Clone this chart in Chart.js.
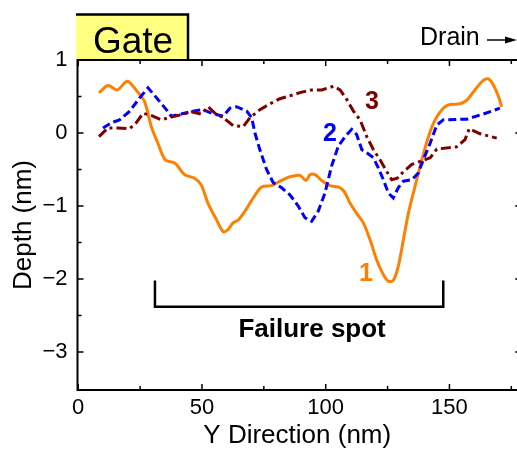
<!DOCTYPE html>
<html><head><meta charset="utf-8">
<script src="https://cdn.jsdelivr.net/npm/chart.js@4"></script>
<style>html,body{margin:0;padding:0;background:#fff}canvas{display:block}</style>
</head><body>
<canvas id="c" width="517" height="449"></canvas>
<script>
// ---- tick values / labels ----
const xTicks = [0, 50, 100, 150];
const xTickLabels = ['0', '50', '100', '150'];
const yTicks = [1, 0, -1, -2, -3];
const yTickLabels = ['1', '0', '−1', '−2', '−3'];
const xMinor = [25, 75, 125, 175];
const yMinor = [0.5, -0.5, -1.5, -2.5];

// ---- series 1 (orange, solid) ----
const s1x = [8.4, 12.0, 15.8, 19.8, 23.8, 26.8, 29.5, 32.2, 35.2, 39.0, 43.0, 47.0, 49.7, 52.4, 55.9, 58.6, 60.6, 62.6, 64.7, 67.4, 70.7, 74.1, 78.2, 81.5, 85.6, 89.6, 92.0, 93.7, 95.7, 98.4, 101.7, 105.8, 107.8, 109.8, 112.5, 115.2, 117.9, 120.6, 123.3, 125.3, 127.3, 129.3, 131.4, 133.4, 136.1, 138.8, 141.5, 144.2, 147.5, 150.2, 154.3, 157.0, 160.3, 163.7, 165.7, 167.7, 169.8, 171.1];
const s1y = [0.55, 0.65, 0.59, 0.71, 0.57, 0.43, 0.09, -0.14, -0.37, -0.41, -0.57, -0.62, -0.71, -0.96, -1.19, -1.35, -1.32, -1.23, -1.19, -1.07, -0.89, -0.74, -0.72, -0.66, -0.60, -0.58, -0.65, -0.57, -0.57, -0.65, -0.72, -0.75, -0.82, -0.96, -1.10, -1.23, -1.46, -1.74, -1.94, -2.03, -2.02, -1.83, -1.46, -1.10, -0.73, -0.37, -0.05, 0.18, 0.34, 0.39, 0.40, 0.45, 0.59, 0.72, 0.74, 0.66, 0.50, 0.36];

// ---- series 2 (blue, dashed) ----
const s2x = [10.0, 13.3, 16.7, 20.8, 24.8, 28.2, 32.2, 35.6, 37.6, 41.6, 46.4, 50.4, 53.9, 58.6, 61.3, 64.0, 68.1, 70.1, 71.4, 73.4, 76.1, 78.8, 82.2, 85.6, 88.9, 91.6, 94.3, 97.0, 99.7, 102.4, 105.1, 107.8, 110.5, 112.5, 114.6, 116.6, 119.3, 121.3, 123.3, 125.3, 127.3, 129.3, 131.4, 134.8, 137.4, 139.4, 142.2, 144.9, 147.5, 157.0, 163.7, 170.4];
const s2y = [0.07, 0.14, 0.18, 0.30, 0.48, 0.62, 0.46, 0.32, 0.23, 0.26, 0.30, 0.32, 0.27, 0.23, 0.34, 0.36, 0.30, 0.21, 0.0, -0.23, -0.50, -0.68, -0.75, -0.85, -1.0, -1.16, -1.21, -1.07, -0.82, -0.45, -0.18, -0.05, 0.05, -0.02, -0.23, -0.27, -0.34, -0.48, -0.64, -0.82, -0.89, -0.75, -0.66, -0.64, -0.55, -0.37, -0.14, 0.11, 0.18, 0.19, 0.26, 0.34];

// ---- series 3 (wine, dash-dot) ----
const s3x = [8.4, 12.0, 16.0, 20.8, 23.4, 26.2, 29.5, 33.5, 37.6, 41.6, 45.7, 49.7, 52.5, 55.3, 58.6, 62.6, 66.7, 69.4, 73.4, 77.5, 81.5, 85.6, 90.3, 94.3, 98.4, 103.1, 105.8, 108.5, 111.2, 113.9, 116.6, 119.3, 122.0, 124.7, 126.7, 128.9, 131.4, 134.8, 138.1, 142.2, 144.9, 152.9, 156.3, 158.0, 162.4, 169.1];
const s3y = [-0.05, 0.07, 0.07, 0.06, 0.14, 0.27, 0.24, 0.18, 0.22, 0.25, 0.29, 0.26, 0.36, 0.27, 0.21, 0.10, 0.09, 0.21, 0.32, 0.40, 0.47, 0.51, 0.56, 0.59, 0.59, 0.64, 0.59, 0.46, 0.30, 0.18, -0.05, -0.23, -0.37, -0.53, -0.64, -0.62, -0.53, -0.43, -0.39, -0.34, -0.22, -0.19, -0.09, 0.06, -0.01, -0.07];

const FONT = "'Liberation Sans', Arial, Helvetica, sans-serif";
const ORANGE = '#ff8000', BLUE = '#0000ff', WINE = '#800000';
function pts(xs, ys) { return xs.map((x, i) => ({ x: x, y: ys[i] })); }

const deco = {
  id: 'deco',
  afterDraw(chart) {
    const ctx = chart.ctx, a = chart.chartArea, X = chart.scales.x, Y = chart.scales.y;
    ctx.save();
    // Gate box
    ctx.fillStyle = '#ffff80';
    ctx.fillRect(76, 14, 112, 46);
    ctx.strokeStyle = '#000'; ctx.lineWidth = 2.5;
    ctx.beginPath(); ctx.moveTo(76, 14.5); ctx.lineTo(188, 14.5); ctx.lineTo(188, 60); ctx.stroke();
    ctx.fillStyle = '#000'; ctx.textAlign = 'center'; ctx.textBaseline = 'alphabetic';
    ctx.font = '37px ' + FONT;
    ctx.fillText('Gate', 133, 53);
    // Drain arrow
    ctx.font = '25px ' + FONT; ctx.textAlign = 'left';
    ctx.fillText('Drain', 420, 45);
    ctx.lineWidth = 1.5;
    ctx.beginPath(); ctx.moveTo(487, 40); ctx.lineTo(508, 40); ctx.stroke();
    ctx.beginPath(); ctx.moveTo(517, 40); ctx.lineTo(505, 36.5); ctx.lineTo(505, 43.5); ctx.closePath(); ctx.fill();
    // frame
    ctx.lineWidth = 2; ctx.strokeStyle = '#000';
    ctx.beginPath();
    ctx.moveTo(a.left, a.top); ctx.lineTo(a.right + 5, a.top);
    ctx.moveTo(a.left, a.top - 1); ctx.lineTo(a.left, a.bottom);
    ctx.lineTo(a.right + 5, a.bottom);
    ctx.stroke();
    // ticks
    ctx.lineWidth = 1.5;
    const rightX = X.getPixelForValue(179);
    ctx.beginPath();
    const xt = (vals, len) => vals.forEach(v => { const p = X.getPixelForValue(v);
      ctx.moveTo(p, a.bottom); ctx.lineTo(p, a.bottom - len);
      ctx.moveTo(p, a.top); ctx.lineTo(p, a.top + len); });
    const yt = (vals, len) => vals.forEach(v => { const p = Y.getPixelForValue(v);
      ctx.moveTo(a.left, p); ctx.lineTo(a.left + len, p);
      ctx.moveTo(rightX, p); ctx.lineTo(rightX - len, p); });
    xt(xTicks, 6); xt(xMinor, 4); yt(yTicks, 6); yt(yMinor, 4);
    ctx.stroke();
    // failure bracket
    ctx.lineWidth = 2.5;
    ctx.beginPath();
    const bx0 = X.getPixelForValue(31.0), bx1 = X.getPixelForValue(147.5);
    const by0 = Y.getPixelForValue(-2.02), by1 = Y.getPixelForValue(-2.38);
    ctx.moveTo(bx0, by0); ctx.lineTo(bx0, by1); ctx.lineTo(bx1, by1); ctx.lineTo(bx1, by0);
    ctx.stroke();
    ctx.font = 'bold 26px ' + FONT; ctx.textAlign = 'center'; ctx.textBaseline = 'alphabetic';
    ctx.fillStyle = '#000';
    ctx.fillText('Failure spot', X.getPixelForValue(94.5), Y.getPixelForValue(-2.79));
    // curve labels
    ctx.font = 'bold 25px ' + FONT; ctx.textBaseline = 'middle';
    ctx.fillStyle = ORANGE; ctx.fillText('1', X.getPixelForValue(116.3), Y.getPixelForValue(-1.93));
    ctx.fillStyle = BLUE; ctx.fillText('2', X.getPixelForValue(101.7), Y.getPixelForValue(-0.01));
    ctx.fillStyle = WINE; ctx.fillText('3', X.getPixelForValue(118.7), Y.getPixelForValue(0.42));
    ctx.restore();
  }
};

new Chart(document.getElementById('c'), {
  type: 'scatter',
  data: {
    datasets: [
      { data: pts(s3x, s3y), showLine: true, borderColor: WINE, borderWidth: 3, borderDash: [10, 4, 3, 4], pointRadius: 0, tension: 0, fill: false },
      { data: pts(s2x, s2y), showLine: true, borderColor: BLUE, borderWidth: 3, borderDash: [8, 4], pointRadius: 0, tension: 0, fill: false },
      { data: pts(s1x, s1y), showLine: true, borderColor: ORANGE, borderWidth: 3, pointRadius: 0, tension: 0.3, fill: false }
    ]
  },
  options: {
    responsive: false, animation: false, devicePixelRatio: 1,
    layout: { padding: { top: 60, left: 0, right: 0, bottom: 0 } },
    plugins: { legend: { display: false }, tooltip: { enabled: false } },
    scales: {
      x: {
        type: 'linear', min: -0.3, max: 177.3,
        afterFit: s => { s.height = 59; },
        afterBuildTicks: s => { s.ticks = xTicks.map(v => ({ value: v })); },
        grid: { display: false, drawTicks: false },
        border: { display: false },
        ticks: { padding: 5, color: '#000', font: { family: FONT, size: 22 }, maxRotation: 0,
                 callback: (v, i) => xTickLabels[i] },
        title: { display: true, text: 'Y Direction (nm)', color: '#000',
                 font: { family: FONT, size: 26, lineHeight: 1 }, padding: { top: 0, bottom: 0 } }
      },
      y: {
        type: 'linear', min: -3.52, max: 1.0,
        afterFit: s => { s.width = 77.5; },
        afterBuildTicks: s => { s.ticks = yTicks.map(v => ({ value: v })); },
        grid: { display: false, drawTicks: false },
        border: { display: false },
        ticks: { padding: 10, color: '#000', font: { family: FONT, size: 22 },
                 callback: (v, i) => yTickLabels[i] },
        title: { display: true, text: 'Depth (nm)', color: '#000',
                 font: { family: FONT, size: 26, lineHeight: 1 }, padding: { top: 11, bottom: 0 } }
      }
    }
  },
  plugins: [deco]
});
</script>
</body></html>
